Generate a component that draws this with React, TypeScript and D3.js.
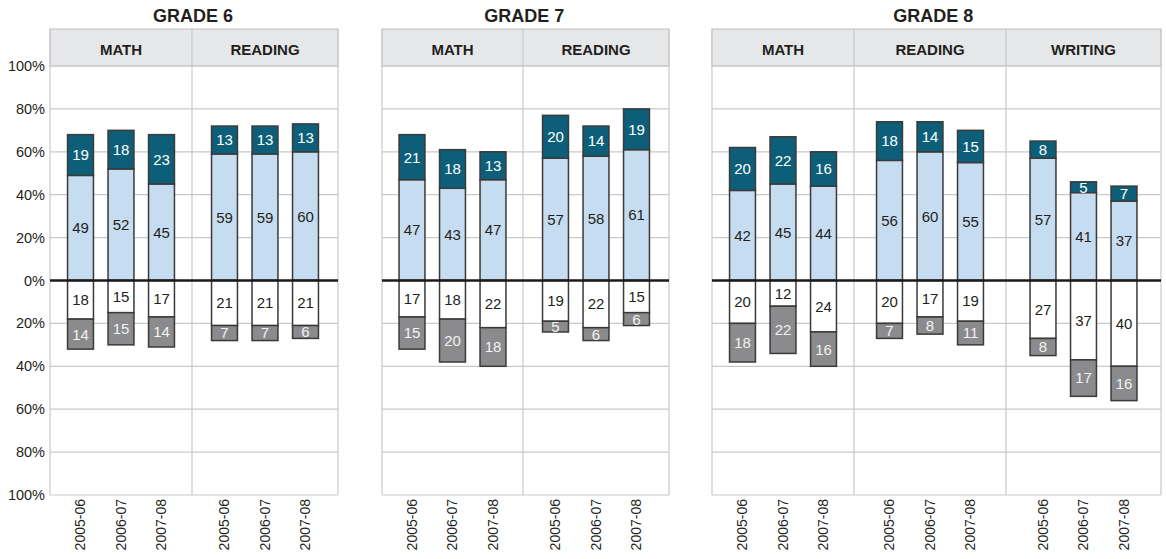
import React from 'react';
import * as d3 from 'd3';

// --- data ---
const years = ['2005-06', '2006-07', '2007-08'];
const grades = ['GRADE 6', 'GRADE 7', 'GRADE 8'];
const subjects = [
  ['MATH', 'READING'],
  ['MATH', 'READING'],
  ['MATH', 'READING', 'WRITING'],
];

// positive side: proficient (light blue) + advanced (teal) on top
const proficient = [
  [[49, 52, 45], [59, 59, 60]],
  [[47, 43, 47], [57, 58, 61]],
  [[42, 45, 44], [56, 60, 55], [57, 41, 37]],
];
const advanced = [
  [[19, 18, 23], [13, 13, 13]],
  [[21, 18, 13], [20, 14, 19]],
  [[20, 22, 16], [18, 14, 15], [8, 5, 7]],
];
// negative side: basic (white) + below basic (grey) underneath
const basic = [
  [[18, 15, 17], [21, 21, 21]],
  [[17, 18, 22], [19, 22, 15]],
  [[20, 12, 24], [20, 17, 19], [27, 37, 40]],
];
const belowBasic = [
  [[14, 15, 14], [7, 7, 6]],
  [[15, 20, 18], [5, 6, 6]],
  [[18, 22, 16], [7, 8, 11], [8, 17, 16]],
];

const yTicks = [-100, -80, -60, -40, -20, 0, 20, 40, 60, 80, 100];

// --- layout ---
const W = 1166;
const H = 559;
// sub-panel edges per grade
const panelEdges = [
  [50, 192, 338],
  [382, 523, 669],
  [712, 854, 1006, 1161],
];
const headerTop = 29;
const step = 40.5;

const C = {
  teal: '#0d5f79',
  blue: '#c6dcf1',
  white: '#ffffff',
  grey: '#8b8b8d',
  stroke: '#3a3a3a',
  grid: '#c9c9c9',
  header: '#e6e7e9',
  text: '#231f20',
};

const font = '"Liberation Sans", Arial, sans-serif';

export default function App() {
  const y = d3.scaleLinear().domain([-100, 100]).range([495, 66]);
  const y0 = y(0);

  return (
    <svg
      width={W}
      height={H}
      style={{ position: 'absolute', left: 0, top: 0, background: '#fff' }}
      fontFamily={font}
    >
      {/* y tick labels */}
      {yTicks.map(t => (
        <text
          key={t}
          x={45}
          y={y(t)}
          dy="0.35em"
          textAnchor="end"
          fontSize={14.5}
          fill={C.text}
        >
          {Math.abs(t)}%
        </text>
      ))}

      {grades.map((grade, gi) => {
        const edges = panelEdges[gi];
        const left = edges[0];
        const right = edges[edges.length - 1];
        const subs = subjects[gi];
        const centers = subs.map((_, si) => (edges[si] + edges[si + 1]) / 2);
        const titleX = (centers[0] + centers[centers.length - 1]) / 2;

        return (
          <g key={grade}>
            <text
              x={titleX}
              y={21.7}
              textAnchor="middle"
              fontSize={18}
              fontWeight="bold"
              fill={C.text}
            >
              {grade}
            </text>

            {/* header strip */}
            <rect
              x={left}
              y={headerTop}
              width={right - left}
              height={y(100) - headerTop}
              fill={C.header}
              stroke={C.grid}
              strokeWidth={1.2}
            />

            {/* horizontal grid */}
            {yTicks.map(t => (
              <line
                key={t}
                x1={left}
                x2={right}
                y1={y(t)}
                y2={y(t)}
                stroke={C.grid}
                strokeWidth={1.2}
              />
            ))}

            {/* vertical borders / dividers */}
            {edges.map((e, i) => (
              <line
                key={i}
                x1={e}
                x2={e}
                y1={headerTop}
                y2={y(-100)}
                stroke={C.grid}
                strokeWidth={1.2}
              />
            ))}

            {subs.map((sub, si) => {
              const c = centers[si];
              const x = d3
                .scaleBand<string>()
                .domain(years)
                .range([c - 1.5 * step, c + 1.5 * step])
                .paddingInner(0.36)
                .paddingOuter(0.18);
              const bw = x.bandwidth();

              return (
                <g key={sub}>
                  <text
                    x={c}
                    y={55}
                    textAnchor="middle"
                    fontSize={15}
                    fontWeight="bold"
                    fill={C.text}
                  >
                    {sub}
                  </text>

                  {years.map((yr, yi) => {
                    const bx = x(yr)!;
                    const cx = bx + bw / 2;
                    const p = proficient[gi][si][yi];
                    const a = advanced[gi][si][yi];
                    const b = basic[gi][si][yi];
                    const bb = belowBasic[gi][si][yi];
                    const segs = [
                      { v0: 0, v1: p, fill: C.blue, txt: C.text, val: p },
                      { v0: p, v1: p + a, fill: C.teal, txt: '#ffffff', val: a },
                      { v0: 0, v1: -b, fill: C.white, txt: C.text, val: b },
                      { v0: -b, v1: -b - bb, fill: C.grey, txt: '#f2f2f2', val: bb },
                    ];
                    return (
                      <g key={yr}>
                        {segs.map((s, k) => {
                          const top = Math.min(y(s.v0), y(s.v1));
                          const h = Math.abs(y(s.v0) - y(s.v1));
                          return (
                            <g key={k}>
                              <rect
                                x={bx}
                                y={top}
                                width={bw}
                                height={h}
                                fill={s.fill}
                                stroke={C.stroke}
                                strokeWidth={1.5}
                              />
                              <text
                                x={cx}
                                y={top + h / 2}
                                dy="0.36em"
                                textAnchor="middle"
                                fontSize={15}
                                fill={s.txt}
                              >
                                {s.val}
                              </text>
                            </g>
                          );
                        })}
                        <text
                          transform={`translate(${cx},499) rotate(-90)`}
                          dy="0.35em"
                          textAnchor="end"
                          fontSize={14}
                          fill={C.text}
                        >
                          {yr}
                        </text>
                      </g>
                    );
                  })}
                </g>
              );
            })}

            {/* zero line */}
            <line
              x1={left}
              x2={right}
              y1={y0}
              y2={y0}
              stroke="#1a1a1a"
              strokeWidth={2.5}
            />
          </g>
        );
      })}
    </svg>
  );
}
